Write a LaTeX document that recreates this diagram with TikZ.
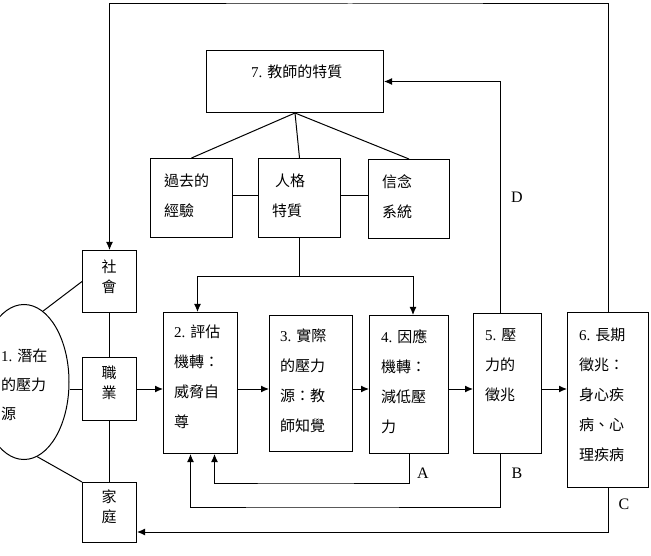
\documentclass[tikz,border=0pt]{standalone}
\usepackage{fontspec}
\setmainfont{Liberation Serif}
\newfontfamily\cjkfont{Noto Sans CJK TC}
\usetikzlibrary{arrows.meta,shapes.geometric}
\newcommand{\nr}[1]{{\rmfamily #1}}

\begin{document}
\begin{tikzpicture}[
  x=1pt,y=-1pt,
  every node/.style={inner sep=0pt},
  box/.style={draw=black,line width=1pt,anchor=north west},
  arr/.style={line width=1pt,-{Latex[length=8pt,width=7pt]}},
  ln/.style={line width=1pt},
  txt/.style={font=\cjkfont\fontsize{15}{30}\selectfont,align=left,anchor=north west},
  stxt/.style={font=\cjkfont\fontsize{15}{20}\selectfont,align=center},
  lab/.style={font=\rmfamily\fontsize{16}{18}\selectfont},
]
  \useasboundingbox (0,0) rectangle (651,556);
  \clip (0,0) rectangle (651,556);
  % ============ teacher traits ============
  \node[box,minimum width=177,minimum height=62] (b7) at (206,50) {};
  \node[txt] (t7) at (251,65) {\nr{7. }教師的特質};
  \node[box,minimum width=82,minimum height=79] (bpast) at (150,158) {};
  \node[box,minimum width=82,minimum height=79] (bpers) at (258,158) {};
  \node[box,minimum width=81,minimum height=79] (bbel) at (368,159) {};
  \node[txt] (tpast) at (164,174) {過去的\\經驗};
  \node[txt] (tpers) at (272,174) {\hspace{3pt}人格\\特質};
  \node[txt] (tbel) at (382,174) {信念\\系統};
  \draw[ln] (b7.south) -- (bpast.north);
  \draw[ln] (b7.south) -- (bpers.north);
  \draw[ln] (b7.south) -- (bbel.north);
  \draw[ln] (bpast.east |- 0,196) -- (bpers.west |- 0,196);
  \draw[ln] (bpers.east |- 0,196) -- (bbel.west |- 0,196);
  % ============ potential stressors ============
  \node[draw,line width=1pt,ellipse,minimum width=90,minimum height=155] (src) at (24,382) {};
  \node[txt,font=\cjkfont\fontsize{15}{29}\selectfont] (tsrc) at (1,349) {\nr{1. }潛在\\的壓力\\源};
  \node[box,minimum width=54,minimum height=62] (bsoc) at (82,250) {};
  \node[box,minimum width=54,minimum height=63] (bjob) at (82,357) {};
  \node[box,minimum width=54,minimum height=60] (bfam) at (82,482) {};
  \node[stxt] (tsoc) at (109,277) {社\\會};
  \node[stxt] (tjob) at (109,383) {職\\業};
  \node[stxt] (tfam) at (109,507) {家\\庭};
  \draw[ln] (src.75) -- (bsoc.west);
  \draw[ln] (src.-80) -- (bfam.north west);
  \draw[ln] (bsoc.south) -- (bjob.north);
  \draw[ln] (bjob.south) -- (bfam.north);
  % ============ main chain ============
  \node[box,minimum width=74,minimum height=141] (b2) at (163,312) {};
  \node[box,minimum width=83,minimum height=136] (b3) at (269,315) {};
  \node[box,minimum width=79,minimum height=138] (b4) at (369,315) {};
  \node[box,minimum width=68,minimum height=140] (b5) at (473,313) {};
  \node[box,minimum width=81,minimum height=175] (b6) at (567,312) {};
  \node[txt] (t2) at (174,325) {\nr{2. }評估\\機轉：\\威脅自\\尊};
  \node[txt] (t3) at (280,329) {\nr{3. }實際\\的壓力\\源：教\\師知覺};
  \node[txt] (t4) at (381,329) {\nr{4. }因應\\機轉：\\減低壓\\力};
  \node[txt] (t5) at (485,328) {\nr{5. }壓\\力的\\徵兆};
  \node[txt] (t6) at (579,328) {\nr{6. }長期\\徵兆：\\身心疾\\病、心\\理疾病};
  \coordinate (row) at (300,389);
  \draw[ln] (src.east |- row) -- (bjob.west |- row);
  \draw[arr] (bjob.east |- row) -- (b2.west |- row);
  \draw[arr] (b2.east |- row) -- (b3.west |- row);
  \draw[arr] (b3.east |- row) -- (b4.west |- row);
  \draw[arr] (b4.east |- row) -- (b5.west |- row);
  \draw[arr] (b5.east |- row) -- (b6.west |- row);
  % personality down to 2 and 4
  \coordinate (split) at (297,277);
  \draw[ln] (bpers.south) -- (bpers.south |- split);
  \draw[arr] (split) -| ([xshift=-3pt]b2.north);
  \draw[arr] (split) -| ([xshift=4pt]b4.north);
  % ============ feedback loops ============
  \coordinate (aline) at (300,483);
  \coordinate (bline) at (300,507);
  \coordinate (cline) at (300,532);
  \coordinate (topline) at (350,4);
  \draw[arr] (b4.south) |- (aline) -| ([xshift=14pt]b2.south);
  \draw[arr] ([xshift=-7pt]b5.south) |- (bline) -| ([xshift=-10pt]b2.south);
  \draw[arr] (b6.south) |- (bfam.east |- cline);
  \draw[arr] ([xshift=-7pt]b5.north) |- (b7.east);
  \draw[arr] (b6.north) |- (topline) -| (bsoc.north);
  \node[lab] (la) at (423,473) {A};
  \node[lab] (lb) at (517,473) {B};
  \node[lab] (lc) at (624,504) {C};
  \node[lab] (ld) at (517,197) {D};
\end{tikzpicture}
\end{document}
